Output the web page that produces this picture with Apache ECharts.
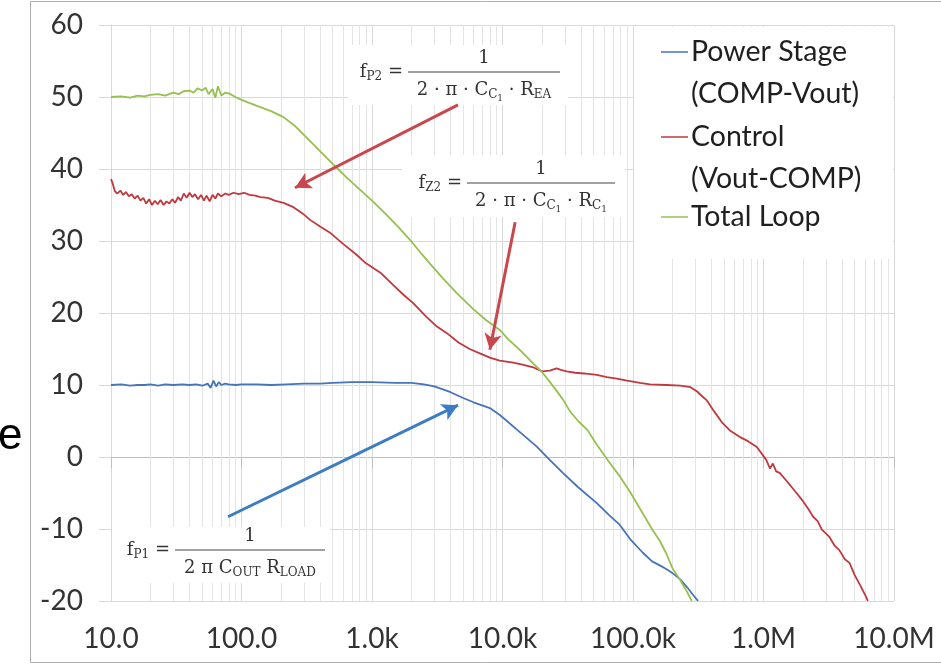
<!DOCTYPE html>
<html>
<head>
<meta charset="utf-8">
<script src="https://cdn.jsdelivr.net/npm/echarts@6.0.0/dist/echarts.min.js"></script>
<style>
  html, body { margin: 0; padding: 0; background: #fff; }
  #chart { width: 941px; height: 667px; }
</style>
</head>
<body>
<div id="chart"></div>
<script>
// --- data (frequency in Hz, gain in dB) ---
const seriesNames = ['Power Stage\n(COMP-Vout)', 'Control\n(Vout-COMP)', 'Total Loop']
const seriesColors = ['#4674b9', '#c0393f', '#97c04f']
const xTickLabels = ['10.0', '100.0', '1.0k', '10.0k', '100.0k', '1.0M', '10.0M']
const yMin = -20
const yMax = 60
const yStep = 10

const powerFreq = [10, 12, 14, 16, 18, 20, 23, 26, 30, 35,
  40, 45, 50, 55, 58, 61, 64, 67, 70, 75,
  80, 90, 100, 130, 170, 220, 300, 400, 500, 700,
  1000, 1500, 2000, 2500, 3000, 3500, 4000, 5000, 6000, 8000,
  9600, 12900, 15000, 18400, 23000, 29000, 38000, 52800, 65000, 79000,
  95000, 119000, 140000, 170000, 185000, 200000, 230000, 260000, 290000, 315000]
const powerGain = [10.0, 10.1, 9.9, 10.0, 10.0, 10.1, 9.9, 10.1, 10.0, 10.1,
  10.0, 10.1, 9.9, 10.2, 9.6, 10.6, 9.8, 10.4, 10.0, 10.2,
  10.1, 10.0, 10.1, 10.1, 10.0, 10.1, 10.2, 10.2, 10.3, 10.4,
  10.4, 10.3, 10.3, 10.1, 9.8, 9.4, 9.0, 8.2, 7.6, 6.8,
  5.8, 3.8, 2.8, 1.4, -0.4, -2.2, -4.2, -6.4, -8.0, -9.4,
  -11.4, -13.3, -14.5, -15.3, -15.7, -16.1, -17.0, -18.1, -19.2, -20.0]

const ctrlFreq = [10, 10.3, 10.7, 11.2, 11.8, 12.4, 13, 13.7, 14.4, 15.2,
  16, 16.8, 17.7, 18.6, 19.6, 20.6, 21.7, 22.8, 24, 25.3,
  26.6, 28, 29.5, 31, 32.6, 34.3, 36.1, 38, 40, 42,
  44, 46.5, 49, 51.5, 54, 57, 60, 63, 66, 70,
  75, 80, 87, 95, 105, 115, 128, 140, 159, 180,
  210, 250, 290, 338, 400, 481, 600, 750, 900, 1160,
  1450, 1750, 2060, 2600, 3100, 3750, 4600, 5600, 6700, 8000,
  9500, 12100, 14500, 17500, 20100, 23000, 26000, 28000, 31000, 36000,
  42000, 52800, 63000, 75000, 90000, 113000, 135000, 180000, 230000, 276000,
  310000, 340000, 366000, 420000, 486000, 560000, 656000, 760000, 889000, 1050000,
  1120000, 1180000, 1250000, 1330000, 1500000, 1790000, 2000000, 2200000, 2400000, 2600000,
  2800000, 3200000, 3500000, 3800000, 4200000, 4560000, 5000000, 5500000, 6100000, 6300000]
const ctrlGain = [38.6, 38.0, 36.9, 36.6, 37.0, 36.4, 36.8, 36.2, 36.5, 35.9,
  36.3, 35.6, 36.0, 35.2, 35.8, 35.0, 35.6, 35.1, 35.7, 35.0,
  35.5, 35.2, 35.8, 35.3, 36.1, 35.6, 36.6, 36.0, 36.7, 36.1,
  36.5, 35.8, 36.4, 35.6, 36.3, 35.5, 36.4, 35.9, 36.6, 36.2,
  36.6, 36.4, 36.7, 36.5, 36.7, 36.4, 36.3, 36.1, 36.0, 35.6,
  35.3, 34.7, 33.9, 32.9, 32.0, 31.1, 29.6, 28.2, 26.9, 25.6,
  23.9, 22.5, 21.4, 19.5, 18.2, 17.2, 15.9, 15.0, 14.4, 13.8,
  13.4, 13.1, 12.8, 12.4, 11.9, 12.0, 12.3, 12.1, 11.9, 11.7,
  11.6, 11.4, 11.1, 10.9, 10.6, 10.3, 10.1, 10.0, 9.9, 9.7,
  9.1, 8.4, 7.9, 6.3, 4.7, 3.6, 2.8, 2.2, 1.4, -0.4,
  -1.6, -0.9, -2.0, -2.2, -3.3, -5.0, -6.1, -7.2, -8.3, -8.9,
  -10.1, -11.1, -12.3, -12.9, -14.2, -14.7, -16.4, -17.8, -19.4, -20.0]

const loopFreq = [10, 12, 14, 16, 18, 20, 23, 26, 30,
  33, 36, 40, 43, 46, 50, 53, 56, 60, 63,
  66, 70, 75, 80, 90, 100, 130, 170, 210, 260,
  330, 403, 500, 650, 800, 1000, 1300, 1600, 1970, 2400,
  2800, 3500, 4500, 6000, 7500, 9600, 11000, 13500, 16500, 20100,
  25000, 29000, 33000, 38000, 45000, 52800, 65000, 80000, 94500, 110000,
  125000, 142000, 160000, 180000, 200000, 230000, 259000, 282000]
const loopGain = [50.0, 50.1, 49.9, 50.2, 50.1, 50.3, 50.4, 50.2, 50.6,
  50.4, 50.8, 50.9, 50.6, 51.2, 50.9, 51.3, 50.4, 51.1, 49.9,
  51.5, 50.2, 50.6, 50.5, 50.0, 49.6, 48.8, 48.0, 47.2, 45.9,
  44.0, 42.4, 40.7, 38.7, 37.2, 35.6, 33.6, 31.9, 30.1, 28.2,
  26.8, 24.8, 22.7, 20.5, 19.0, 17.6, 16.4, 14.9, 13.3, 11.8,
  9.6, 8.0, 6.3, 5.0, 3.7, 1.7, -0.6, -2.8, -4.8, -6.8,
  -8.5, -10.2, -11.6, -13.4, -15.4, -17.1, -18.7, -20.0]

// annotation arrows: [freq, dB] tail -> head
const arrowTails = [[4560, 48.9], [12500, 32.6], [78.8, -8.3]]
const arrowHeads = [[257, 37.4], [8000, 14.9], [4560, 7.2]]
const arrowColors = ['#c9474c', '#c9474c', '#3c7cc2']

const pairs = (xs, ys) => xs.map((x, i) => [x, ys[i]])

// minor vertical grid at 2..9 of each decade
const minorLines = []
for (let d = 10; d < 1e7; d *= 10) {
  for (let m = 2; m <= 9; m++) minorLines.push(d * m)
}

// --- formula annotations (drawn as text pieces) ---
const SERIF = 'DejaVu Serif'
const LEVEL_SIZE = [18, 12, 9]
const LEVEL_DY = [0, 5, 9]
const measureCtx = document.createElement('canvas').getContext('2d')
function textWidth (t, size) {
  measureCtx.font = size + 'px "' + SERIF + '"'
  return measureCtx.measureText(t).width
}
function runWidth (tokens) {
  return tokens.reduce((s, tk) => s + textWidth(tk[0], LEVEL_SIZE[tk[1]]), 0)
}
function runElements (tokens, x0, cy) {
  const els = []
  let x = x0
  tokens.forEach(function (tk) {
    els.push({
      type: 'text',
      z: 11,
      style: {
        text: tk[0], x: x, y: cy + LEVEL_DY[tk[1]],
        fontSize: LEVEL_SIZE[tk[1]], fontFamily: SERIF,
        fill: '#333', verticalAlign: 'middle'
      }
    })
    x += textWidth(tk[0], LEVEL_SIZE[tk[1]])
  })
  return els
}
function formula (f) {
  const bx0 = f.bar[0]
  const bx1 = f.bar[1]
  const by = f.bar[2]
  const els = [{
    type: 'rect', z: 1,
    shape: { x: f.box[0], y: f.box[1], width: f.box[2], height: f.box[3] },
    style: { fill: '#fff' }
  }, {
    type: 'line', z: 11,
    shape: { x1: bx0, y1: by, x2: bx1, y2: by },
    style: { stroke: '#444', lineWidth: 1.2 }
  }]
  const lw = runWidth(f.lhs)
  const nw = textWidth('1', LEVEL_SIZE[0])
  const dw = runWidth(f.den)
  return els
    .concat(runElements(f.lhs, bx0 - 5 - lw, by))
    .concat(runElements([['1', 0]], (bx0 + bx1) / 2 - nw / 2, by - 14))
    .concat(runElements(f.den, (bx0 + bx1) / 2 - dw / 2, by + 18))
}

const formulas = [
  {
    lhs: [['f', 0], ['P2', 1], [' =', 0]],
    den: [['2 · π · C', 0], ['C', 1], ['1', 2], [' · R', 0], ['EA', 1]],
    bar: [408, 560, 72], box: [348, 45, 220, 60]
  },
  {
    lhs: [['f', 0], ['Z2', 1], [' =', 0]],
    den: [['2 · π · C', 0], ['C', 1], ['1', 2], [' · R', 0], ['C', 1], ['1', 2]],
    bar: [467, 615, 183], box: [402, 155, 223, 62]
  },
  {
    lhs: [['f', 0], ['P1', 1], [' =', 0]],
    den: [['2 π C', 0], ['OUT', 1], [' R', 0], ['LOAD', 1]],
    bar: [175, 325, 550], box: [112, 527, 218, 56]
  }
]

// --- legend drawn as graphic ---
const legendY = [31, 116, 196]
function legendElements () {
  const els = [{
    type: 'rect', z: 1,
    shape: { x: 634, y: 27, width: 259, height: 232 },
    style: { fill: '#fff' }
  }]
  seriesNames.forEach(function (name, i) {
    els.push({
      type: 'line', z: 11,
      shape: { x1: 661, y1: legendY[i] + 21, x2: 688, y2: legendY[i] + 21 },
      style: { stroke: seriesColors[i], lineWidth: 1.5 }
    })
    els.push({
      type: 'text', z: 11,
      style: {
        text: name, x: 691, y: legendY[i], lineHeight: 42,
        fontSize: 28.5, fontFamily: 'Lato', fill: '#1f1f1f', verticalAlign: 'top'
      }
    })
  })
  return els
}

const chart = echarts.init(document.getElementById('chart'))
chart.setOption({
  backgroundColor: '#fff',
  animation: false,
  grid: { left: 111, right: 47, top: 25, bottom: 66 },
  xAxis: {
    type: 'log',
    logBase: 10,
    min: 10,
    max: 1e7,
    splitNumber: 6,
    axisLine: { show: true, lineStyle: { color: '#bfbfbf' } },
    axisTick: { show: true, length: 11, lineStyle: { color: '#bfbfbf' } },
    splitLine: { show: true, lineStyle: { color: '#d9d9d9' } },
    axisLabel: {
      margin: 24,
      fontSize: 28,
      fontFamily: 'Lato',
      color: '#333',
      formatter: function (v) {
        return xTickLabels[Math.round(Math.log10(v)) - 1]
      }
    }
  },
  yAxis: {
    type: 'value',
    min: yMin,
    max: yMax,
    interval: yStep,
    axisLine: { show: true, lineStyle: { color: '#d9d9d9' } },
    axisTick: { show: true, length: 12, lineStyle: { color: '#d9d9d9' } },
    splitLine: { show: true, lineStyle: { color: '#d9d9d9' } },
    axisLabel: { margin: 28, fontSize: 28, fontFamily: 'Lato', color: '#333' }
  },
  series: [
    {
      type: 'line',
      data: [],
      z: 0.5,
      markLine: {
        silent: true,
        z: 0.5,
        symbol: ['none', 'none'],
        label: { show: false },
        lineStyle: { color: '#e4e4e4', width: 1, type: 'solid' },
        data: minorLines.map(v => ({ xAxis: v }))
      }
    },
    {
      name: seriesNames[0], type: 'line', z: 3, symbol: 'none',
      data: pairs(powerFreq, powerGain),
      lineStyle: { color: seriesColors[0], width: 1.8 }
    },
    {
      name: seriesNames[1], type: 'line', z: 3, symbol: 'none',
      data: pairs(ctrlFreq, ctrlGain),
      lineStyle: { color: seriesColors[1], width: 1.8 }
    },
    {
      name: seriesNames[2], type: 'line', z: 3, symbol: 'none',
      data: pairs(loopFreq, loopGain),
      lineStyle: { color: seriesColors[2], width: 1.8 }
    },
    {
      type: 'line',
      data: [],
      markLine: {
        silent: true,
        z: 10,
        symbol: ['none', 'arrow'],
        symbolSize: [13, 16],
        label: { show: false },
        data: arrowTails.map((t, i) => [
          { coord: t, lineStyle: { color: arrowColors[i], width: 3, type: 'solid' }, itemStyle: { color: arrowColors[i] } },
          { coord: arrowHeads[i] }
        ])
      }
    }
  ],
  graphic: [
    {
      type: 'rect', z: 0,
      shape: { x: 30.5, y: 1.5, width: 930, height: 661 },
      style: { fill: 'none', stroke: '#b0b0b0', lineWidth: 1 }
    },
    {
      type: 'text', z: 11,
      style: { text: 'e', x: -2, y: 437, fontSize: 44, fontFamily: 'Liberation Sans', fill: '#000', verticalAlign: 'middle' }
    }
  ].concat(legendElements())
    .concat(formula(formulas[0]))
    .concat(formula(formulas[1]))
    .concat(formula(formulas[2]))
})
window.onresize = function () {
  chart.resize()
}
</script>
</body>
</html>
